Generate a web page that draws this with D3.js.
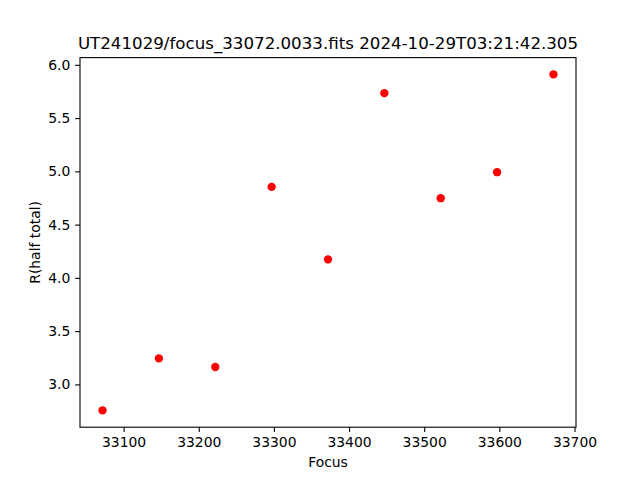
<!DOCTYPE html>
<html>
<head>
<meta charset="utf-8">
<script src="https://cdn.jsdelivr.net/npm/d3@7"></script>
<style>
  html, body { margin: 0; padding: 0; background: #fff; }
  text { font-family: "DejaVu Sans", sans-serif; fill: #000; }
</style>
</head>
<body>
<svg id="chart" width="640" height="480"></svg>
<script>
const focusValues = [33072, 33147, 33222, 33297, 33372, 33447, 33522, 33597, 33672];
const rHalfTotal = [2.756, 3.244, 3.163, 4.854, 4.174, 5.734, 4.748, 4.992, 5.910];
const xTicks = [33100, 33200, 33300, 33400, 33500, 33600, 33700];
const yTicks = [3.0, 3.5, 4.0, 4.5, 5.0, 5.5, 6.0];
const titleText = "UT241029/focus_33072.0033.fits 2024-10-29T03:21:42.305";
const xLabel = "Focus";
const yLabel = "R(half total)";

(function () {
const W = 640, H = 480;
const pL = 80, pR = 576, pT = 57.6, pB = 427.2;

const svg = d3.select("#chart");
svg.append("rect").attr("width", W).attr("height", H).attr("fill", "#fff");

const xMin = d3.min(focusValues), xMax = d3.max(focusValues);
const yMin = d3.min(rHalfTotal), yMax = d3.max(rHalfTotal);
const xm = (xMax - xMin) * 0.05, ym = (yMax - yMin) * 0.05;

const x = d3.scaleLinear().domain([xMin - xm, xMax + xm]).range([pL, pR]);
const y = d3.scaleLinear().domain([yMin - ym, yMax + ym]).range([pB, pT]);

const tickLen = 4.86, pad = 4.86;

const xAxis = svg.append("g").attr("transform", `translate(0,${pB})`)
  .call(d3.axisBottom(x).tickValues(xTicks).tickFormat(d3.format("d")).tickSize(tickLen).tickPadding(pad));
const yAxis = svg.append("g").attr("transform", `translate(${pL},0)`)
  .call(d3.axisLeft(y).tickValues(yTicks).tickFormat(d3.format(".1f")).tickSize(tickLen).tickPadding(pad));

[xAxis, yAxis].forEach(g => {
  g.select(".domain").remove();
  g.selectAll(".tick line").attr("stroke", "#000").attr("stroke-width", 1.1);
  g.selectAll(".tick text").attr("font-size", "13.9px").attr("font-family", "DejaVu Sans, sans-serif").attr("fill", "#000");
});

svg.append("rect")
  .attr("x", pL).attr("y", pT)
  .attr("width", pR - pL).attr("height", pB - pT)
  .attr("fill", "none").attr("stroke", "#000").attr("stroke-width", 1.1);

svg.append("g").selectAll("circle")
  .data(focusValues.map((f, i) => ({ f, r: rHalfTotal[i] })))
  .join("circle")
  .attr("cx", d => x(d.f))
  .attr("cy", d => y(d.r))
  .attr("r", 4.17)
  .attr("fill", "#ff0000");

svg.append("text")
  .attr("x", (pL + pR) / 2).attr("y", 49.3)
  .attr("text-anchor", "middle")
  .attr("font-size", "16.67px")
  .text(titleText);

svg.append("text")
  .attr("x", (pL + pR) / 2).attr("y", 466.5)
  .attr("text-anchor", "middle")
  .attr("font-size", "13.9px")
  .text(xLabel);

svg.append("text")
  .attr("transform", `translate(39.5,${(pT + pB) / 2}) rotate(-90)`)
  .attr("text-anchor", "middle")
  .attr("font-size", "13.9px")
  .text(yLabel);
})();
</script>
</body>
</html>
